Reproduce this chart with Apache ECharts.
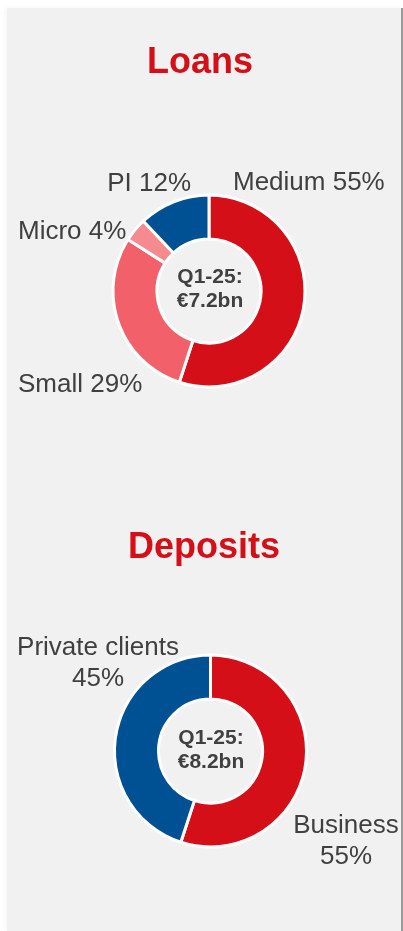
<!DOCTYPE html>
<html>
<head>
<meta charset="utf-8">
<script src="https://cdn.jsdelivr.net/npm/echarts@6/dist/echarts.min.js"></script>
<style>
  html, body { margin: 0; padding: 0; background: #ffffff; }
  #panel {
    position: absolute; left: 7px; top: 8px; width: 394px; height: 923px;
    background: #f1f1f1; border-right: 2px solid #9c9c9c;
    box-shadow: -2px 0 4px rgba(0,0,0,0.04);
  }
  #chart { position: absolute; left: 0; top: 0; width: 403px; height: 931px; }
</style>
</head>
<body>
<div id="panel"></div>
<div id="chart"></div>
<script>
const loanNames = ['Medium', 'Small', 'Micro', 'PI'];
const loanValues = [55, 29, 4, 12];
const depositNames = ['Business', 'Private clients'];
const depositValues = [55, 45];
const loanTotal = 'Q1-25:\n€7.2bn';
const depositTotal = 'Q1-25:\n€8.2bn';

const FONT = '"Liberation Sans", Arial, sans-serif';
const TEXT = '#404040';
const RED = '#d50f18';
const BLUE = '#005094';

const loanColors = [RED, '#f26169', '#f58b8f', BLUE];
const depositColors = [RED, BLUE];

// label anchors, by data index
const loanLabelPos = [
  { x: 233, y: 183, align: 'left' },
  { x: 18, y: 385, align: 'left' },
  { x: 18, y: 232, align: 'left' },
  { x: 191, y: 184, align: 'right' }
];
const depositLabelPos = [
  { x: 346, y: 841, align: 'center' },
  { x: 98, y: 663, align: 'center' }
];

const myChart = echarts.init(document.getElementById('chart'));

function donut(names, values, colors, center, labelPos, formatter) {
  return {
    type: 'pie',
    center: center,
    radius: [52, 96],
    startAngle: 90,
    clockwise: true,
    silent: true,
    itemStyle: { borderColor: '#ffffff', borderWidth: 3 },
    label: {
      show: true,
      position: 'outside',
      alignTo: 'none',
      overflow: 'none',
      color: TEXT,
      fontFamily: FONT,
      fontSize: 26,
      lineHeight: 31,
      formatter: formatter
    },
    labelLine: { show: false },
    labelLayout: (params) => {
      const p = labelPos[params.dataIndex];
      return { x: p.x, y: p.y, align: p.align, verticalAlign: 'middle', hideOverlap: false };
    },
    data: names.map((n, i) => ({ name: n, value: values[i], itemStyle: { color: colors[i] } }))
  };
}

const option = {
  backgroundColor: 'transparent',
  animation: false,
  title: [
    {
      text: 'Loans', left: 200, top: 45, textAlign: 'center', padding: 0,
      textStyle: { color: RED, fontSize: 36, fontWeight: 'bold', fontFamily: FONT }
    },
    {
      text: 'Deposits', left: 204, top: 530, textAlign: 'center', padding: 0,
      textStyle: { color: RED, fontSize: 36, fontWeight: 'bold', fontFamily: FONT }
    }
  ],
  graphic: [
    {
      type: 'text', x: 210, y: 289,
      style: {
        text: loanTotal, fill: TEXT, font: 'bold 21px ' + FONT,
        align: 'center', verticalAlign: 'middle', lineHeight: 24
      }
    },
    {
      type: 'text', x: 211, y: 750,
      style: {
        text: depositTotal, fill: TEXT, font: 'bold 21px ' + FONT,
        align: 'center', verticalAlign: 'middle', lineHeight: 24
      }
    }
  ],
  series: [
    donut(loanNames, loanValues, loanColors, [209, 291], loanLabelPos,
      (p) => p.name + ' ' + p.value + '%'),
    donut(depositNames, depositValues, depositColors, [210.5, 751], depositLabelPos,
      (p) => p.name + '\n' + p.value + '%')
  ]
};

myChart.setOption(option);
</script>
</body>
</html>
